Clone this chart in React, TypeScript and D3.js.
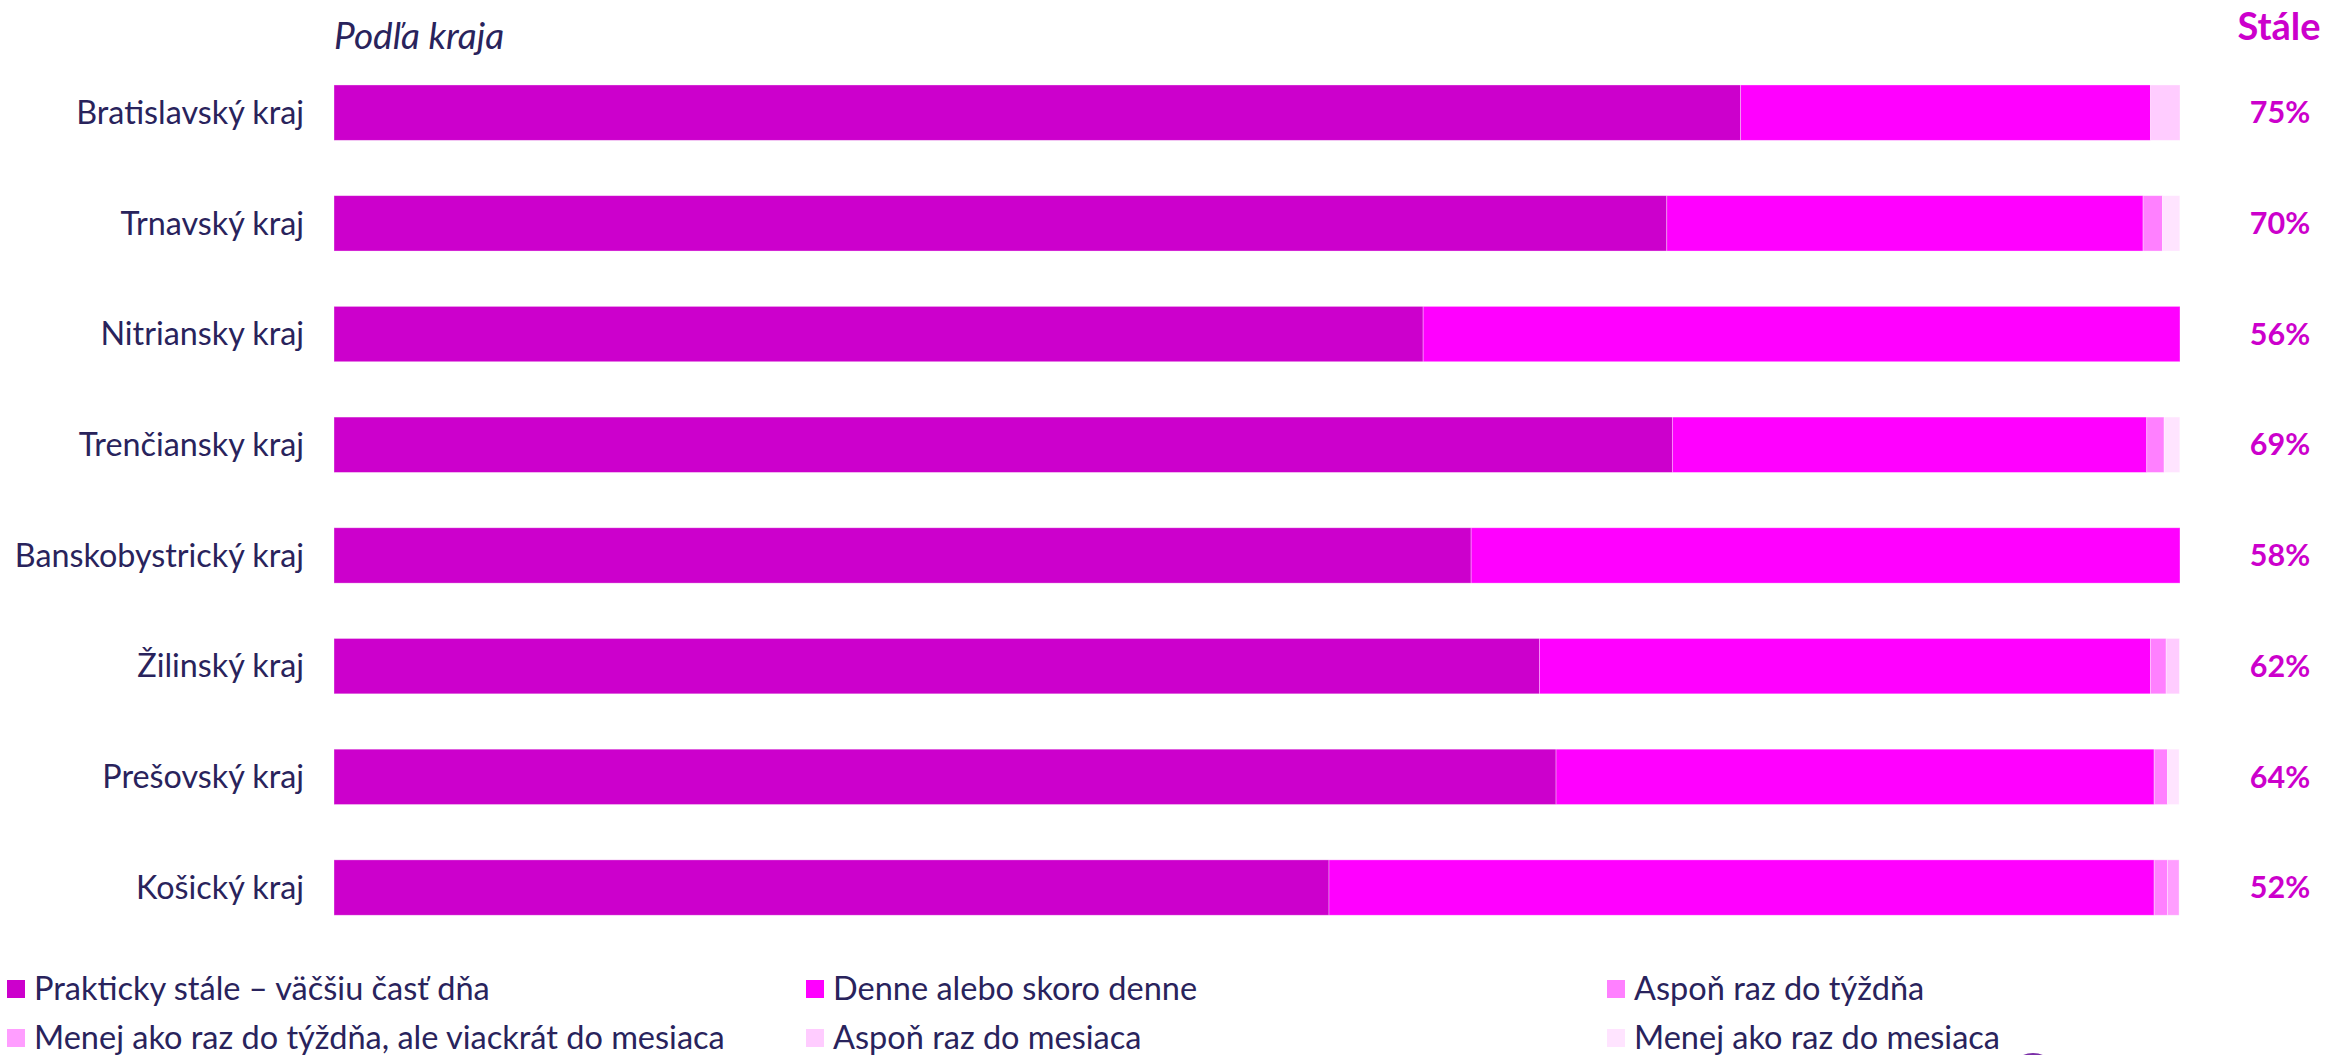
import React, { useEffect } from "react";
import * as d3 from "d3";

const regions = [
  "Bratislavský kraj",
  "Trnavský kraj",
  "Nitriansky kraj",
  "Trenčiansky kraj",
  "Banskobystrický kraj",
  "Žilinský kraj",
  "Prešovský kraj",
  "Košický kraj",
];

const seriesNames = [
  "Prakticky stále – väčšiu časť dňa",
  "Denne alebo skoro denne",
  "Aspoň raz do týždňa",
  "Menej ako raz do týždňa, ale viackrát do mesiaca",
  "Aspoň raz do mesiaca",
  "Menej ako raz do mesiaca",
];

const seriesColors = ["#CC00CC", "#FF00FF", "#FF80FF", "#FF9EFF", "#FFCCFF", "#FFE4FF"];

const stale = [76.2, 72.2, 59.0, 72.5, 61.6, 65.3, 66.2, 53.9];
const denne = [22.2, 25.8, 41.0, 25.7, 38.4, 33.1, 32.4, 44.7];
const tyzden = [0, 1.05, 0, 0.94, 0, 0.85, 0.72, 0.72];
const viackrat = [0, 0, 0, 0, 0, 0, 0, 0.63];
const mesiac = [1.6, 0, 0, 0, 0, 0.72, 0, 0];
const menejMesiac = [0, 0.94, 0, 0.85, 0, 0, 0.63, 0];

const staleLabels = ["75%", "70%", "56%", "69%", "58%", "62%", "64%", "52%"];

const title = "Podľa kraja";
const staleHeader = "Stále";

const W = 2326;
const H = 1055;
const NAVY = "#29235C";
const FONT = "Lato, 'Noto Sans', sans-serif";

export default function App() {
  useEffect(() => {
    document.body.style.margin = "0";
  }, []);

  const seriesValues = [stale, denne, tyzden, viackrat, mesiac, menejMesiac];
  const rows = regions.map((r, i) => {
    const o: any = { region: r };
    seriesNames.forEach((s, k) => (o[s] = seriesValues[k][i]));
    return o;
  });
  const stack = d3.stack<any>().keys(seriesNames)(rows);

  const x = d3.scaleLinear().domain([0, 100]).range([334, 2180]);
  const y = d3
    .scaleBand<string>()
    .domain(regions)
    .range([57.3, 942.9])
    .paddingInner(0.5)
    .paddingOuter(0.25);

  const legendCols = [7, 806, 1607];
  const legendRows = [989, 1038];

  return (
    <svg width={W} height={H} style={{ display: "block", background: "#fff" }} fontFamily={FONT}>
      <text x={334} y={49} fontSize={37} fontStyle="italic" fill={NAVY}>
        {title}
      </text>
      <text x={2279} y={40} fontSize={38} fontWeight={700} fill="#CC00CC" textAnchor="middle">
        {staleHeader}
      </text>

      {stack.map((layer, k) => (
        <g key={layer.key} fill={seriesColors[k]}>
          {layer.map((d, i) =>
            d[1] - d[0] > 0 ? (
              <rect
                key={i}
                x={x(d[0])}
                y={y(d.data.region)}
                width={x(d[1]) - x(d[0])}
                height={y.bandwidth()}
                stroke="#ffffff"
                strokeOpacity={0.45}
                strokeWidth={0.75}
              />
            ) : null
          )}
        </g>
      ))}

      {regions.map((r) => (
        <text
          key={r}
          x={304}
          y={(y(r) as number) + y.bandwidth() / 2}
          dy="0.35em"
          fontSize={32.3}
          fill={NAVY}
          textAnchor="end"
        >
          {r}
        </text>
      ))}

      {regions.map((r, i) => (
        <text
          key={r + "p"}
          x={2280}
          y={(y(r) as number) + y.bandwidth() / 2}
          dy="0.35em"
          fontSize={30.5}
          fontWeight={700}
          fill="#CC00CC"
          textAnchor="middle"
        >
          {staleLabels[i]}
        </text>
      ))}

      {seriesNames.map((s, k) => {
        const cx = legendCols[k % 3];
        const cy = legendRows[Math.floor(k / 3)];
        return (
          <g key={s}>
            <rect x={cx} y={cy - 9} width={18} height={18} fill={seriesColors[k]} />
            <text x={cx + 27} y={cy} dy="0.35em" fontSize={32.5} fill={NAVY}>
              {s}
            </text>
          </g>
        );
      })}

      <ellipse cx={2033} cy={1064} rx={17} ry={11} fill="#7B2FA8" />
    </svg>
  );
}
